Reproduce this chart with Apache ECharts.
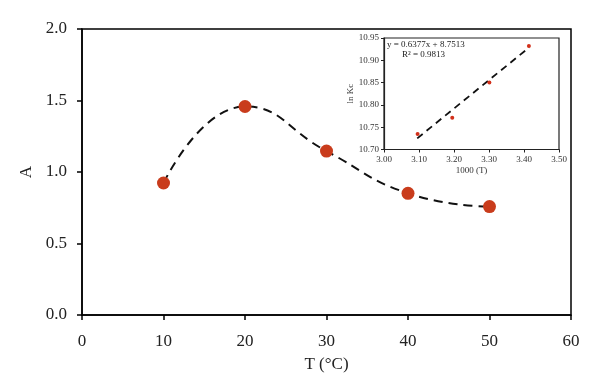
<!DOCTYPE html>
<html>
<head>
<meta charset="utf-8">
<script src="https://cdn.jsdelivr.net/npm/echarts@6/dist/echarts.min.js"></script>
<style>html,body{margin:0;padding:0;background:#fff}#c{width:600px;height:391px}</style>
</head>
<body>
<div id="c"></div>
<script>
// Main chart data
var temps = [10, 20, 30, 40, 50];
var absorb = [0.923, 1.458, 1.146, 0.851, 0.758];
var mainXTicks = [0, 10, 20, 30, 40, 50, 60];
var mainYTicks = [0.0, 0.5, 1.0, 1.5, 2.0];
// Inset data
var invT = [3.096, 3.195, 3.301, 3.414];
var lnKc = [10.735, 10.771, 10.850, 10.932];
var fitX = [3.095, 3.415];
var fitY = [10.725, 10.929];
var insetXTicks = [3.00, 3.10, 3.20, 3.30, 3.40, 3.50];
var insetYTicks = [10.70, 10.75, 10.80, 10.85, 10.90, 10.95];
var eqText = 'y = 0.6377x + 8.7513';
var r2Text = 'R\u00B2 = 0.9813';

var F = 'Liberation Serif';
var chart = echarts.init(document.getElementById('c'));
function pairs(a, b) { return a.map(function (v, i) { return [v, b[i]]; }); }

chart.setOption({
  animation: false,
  grid: [
    {left: 82, right: 29, top: 29, bottom: 76, show: true, borderColor: '#000', borderWidth: 1.5},
    {left: 384, width: 175, top: 38, height: 111.5, show: true, borderColor: '#222', borderWidth: 1.2, backgroundColor: '#fff'}
  ],
  xAxis: [
    {gridIndex: 0, type: 'value', min: mainXTicks[0], max: mainXTicks[mainXTicks.length - 1], interval: 10,
     name: 'T (\u00B0C)', nameLocation: 'middle', nameGap: 41,
     nameTextStyle: {fontFamily: F, fontSize: 17, color: '#222'},
     axisLine: {lineStyle: {color: '#000', width: 1.5}},
     axisTick: {show: true, inside: false, length: 5, lineStyle: {color: '#000', width: 1.5}},
     axisLabel: {fontFamily: F, fontSize: 17, color: '#222', margin: 18},
     splitLine: {show: false}},
    {gridIndex: 1, type: 'value', min: 3.0, max: 3.5, interval: 0.1,
     name: '1000 (T)', nameLocation: 'middle', nameGap: 17,
     nameTextStyle: {fontFamily: F, fontSize: 9, color: '#333'},
     axisLine: {lineStyle: {color: '#222', width: 1.2}},
     axisTick: {show: true, length: 3, lineStyle: {color: '#222'}},
     axisLabel: {fontFamily: F, fontSize: 9, color: '#333', margin: 6,
       formatter: function (v) { return v.toFixed(2); }},
     splitLine: {show: false}}
  ],
  yAxis: [
    {gridIndex: 0, type: 'value', min: mainYTicks[0], max: mainYTicks[mainYTicks.length - 1], interval: 0.5,
     name: 'A', nameLocation: 'middle', nameGap: 45,
     nameTextStyle: {fontFamily: F, fontSize: 17, color: '#222'},
     axisLine: {lineStyle: {color: '#000', width: 1.5}},
     axisTick: {show: true, length: 5, lineStyle: {color: '#000', width: 1.5}},
     axisLabel: {fontFamily: F, fontSize: 17, color: '#222', margin: 15,
       formatter: function (v) { return v.toFixed(1); }},
     splitLine: {show: false}},
    {gridIndex: 1, type: 'value', min: 10.70, max: 10.95, interval: 0.05,
     name: 'ln Kc', nameLocation: 'middle', nameGap: 29,
     nameTextStyle: {fontFamily: F, fontSize: 9, color: '#333'},
     axisLine: {lineStyle: {color: '#222', width: 1.2}},
     axisTick: {show: true, length: 3, lineStyle: {color: '#222'}},
     axisLabel: {fontFamily: F, fontSize: 9, color: '#333', margin: 5,
       formatter: function (v) { return v.toFixed(2); }},
     splitLine: {show: false}}
  ],
  graphic: [
    {type: 'text', left: 387, top: 40, z: 100, style: {text: eqText, font: '9px "Liberation Serif"', fill: '#222'}},
    {type: 'text', left: 402, top: 50, z: 100, style: {text: r2Text, font: '9px "Liberation Serif"', fill: '#222'}}
  ],
  series: [
    {type: 'line', xAxisIndex: 0, yAxisIndex: 0, data: pairs(temps, absorb), smooth: 0.5,
     showSymbol: false, lineStyle: {color: '#111', width: 2, type: [9, 6]}, z: 2},
    {type: 'scatter', xAxisIndex: 0, yAxisIndex: 0, data: pairs(temps, absorb), symbolSize: 13,
     itemStyle: {color: '#c93c1c', opacity: 1}, z: 3},
    {type: 'line', xAxisIndex: 1, yAxisIndex: 1, data: pairs(fitX, fitY), showSymbol: false,
     lineStyle: {color: '#111', width: 1.8, type: [7, 5]}, z: 5},
    {type: 'scatter', xAxisIndex: 1, yAxisIndex: 1, data: pairs(invT, lnKc), symbolSize: 4,
     itemStyle: {color: '#d2301a', opacity: 1}, z: 6}
  ]
});
</script>
</body>
</html>
